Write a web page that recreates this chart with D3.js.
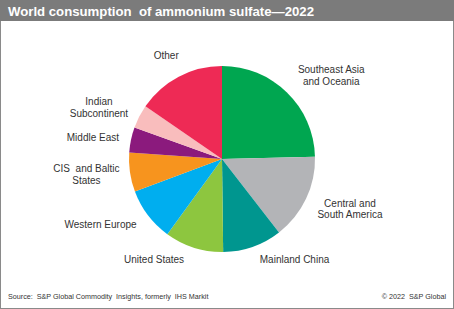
<!DOCTYPE html>
<html>
<head>
<meta charset="utf-8">
<script src="https://cdn.jsdelivr.net/npm/d3@7"></script>
<style>
  body { margin: 0; background: #fff; }
  svg { display: block; }
</style>
</head>
<body>
<div id="chart"></div>
<script>
// World consumption of ammonium sulfate, 2022 (shares in %)
const regions = [
    "Southeast Asia|and Oceania",
    "Central and|South America",
    "Mainland China",
    "United States",
    "Western Europe",
    "CIS  and Baltic|States",
    "Middle East",
    "Indian|Subcontinent",
    "Other"
];
const shares = [24.6, 14.9, 10.3, 10.2, 9.3, 6.8, 4.4, 4.1, 15.4];
const sliceColors = [
    "#00a650", "#b3b4b7", "#00968f", "#8dc63f", "#00aeef",
    "#f7941e", "#8b1a7d", "#f9bdbd", "#ee2a55"
];

// hand-tuned label nudges from the outer-arc centroid
const labelNudge = [
    [15, 13], [6, -8], [28, -27], [-27, -28], [-14, -16],
    [-2, -4], [3, 6], [-3, 10], [7, 16]
];

const width = 454;
const height = 309;
const cx = 222;
const cy = 159;
const radius = 93;
const labelRadius = 135;
const font = "Arial, 'Liberation Sans', Helvetica, sans-serif";

const svg = d3.select("#chart").append("svg")
    .attr("width", width)
    .attr("height", height);

// frame + header
svg.append("rect")
    .attr("x", 0.5).attr("y", 0.5)
    .attr("width", width - 1).attr("height", height - 1)
    .attr("fill", "#fff")
    .attr("stroke", "#8a8a8a");

svg.append("rect")
    .attr("x", 0).attr("y", 0)
    .attr("width", width).attr("height", 21)
    .attr("fill", "#7b7b7b");

svg.append("text")
    .attr("x", 8).attr("y", 16)
    .attr("font-family", font)
    .attr("font-weight", "bold")
    .attr("font-size", "13.2px")
    .attr("fill", "#fff")
    .attr("xml:space", "preserve")
    .text("World consumption  of ammonium sulfate\u20142022");

// pie
const pie = d3.pie().sort(null).value(d => d);
const arcs = pie(shares);
const arc = d3.arc().innerRadius(0).outerRadius(radius);
const outerArc = d3.arc().innerRadius(labelRadius).outerRadius(labelRadius);

const g = svg.append("g")
    .attr("transform", `translate(${cx}, ${cy})`);

g.selectAll("path.slice")
    .data(arcs)
    .join("path")
    .attr("class", "slice")
    .attr("d", arc)
    .attr("fill", (d, i) => sliceColors[i]);

const lineHeight = 11.5;

g.selectAll("text.label")
    .data(arcs)
    .join("text")
    .attr("class", "label")
    .attr("text-anchor", "middle")
    .attr("font-family", font)
    .attr("font-size", "10px")
    .attr("fill", "#333")
    .attr("xml:space", "preserve")
    .each(function(d, i) {
        const [x, y] = outerArc.centroid(d);
        const lines = regions[i].split("|");
        const tx = x + labelNudge[i][0];
        const ty = y + labelNudge[i][1];
        d3.select(this).selectAll("tspan")
            .data(lines)
            .join("tspan")
            .attr("x", tx)
            .attr("y", (l, j) => ty + (j - (lines.length - 1) / 2) * lineHeight + 3.5)
            .text(l => l);
    });

// footer
svg.append("text")
    .attr("x", 8).attr("y", 299)
    .attr("font-family", font)
    .attr("font-size", "7.2px")
    .attr("fill", "#333")
    .attr("xml:space", "preserve")
    .text("Source:  S&P Global Commodity  Insights, formerly  IHS Markit");

svg.append("text")
    .attr("x", 446).attr("y", 299)
    .attr("text-anchor", "end")
    .attr("font-family", font)
    .attr("font-size", "7.2px")
    .attr("fill", "#333")
    .attr("xml:space", "preserve")
    .text("\u00a9 2022  S&P Global");
</script>
</body>
</html>
